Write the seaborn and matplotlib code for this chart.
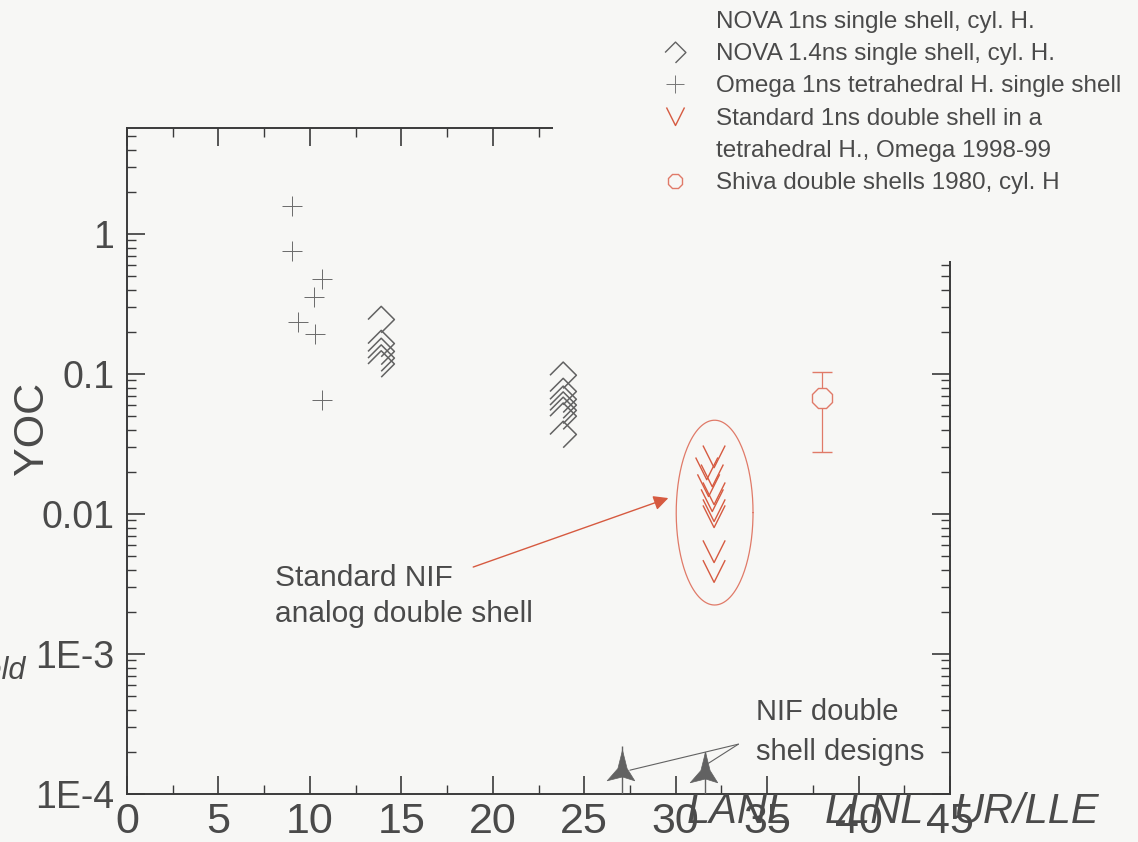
import numpy as np
import matplotlib
matplotlib.use("Agg")
import matplotlib.pyplot as plt
import seaborn as sns
from matplotlib.path import Path
from matplotlib.lines import Line2D
from matplotlib.patches import Rectangle
from matplotlib.ticker import MultipleLocator, LogLocator, NullFormatter

# ---------------- data ----------------
# Omega 1 ns tetrahedral hohlraum, single shell
omega_x = [9.0, 9.0, 10.65, 10.2, 9.37, 10.28, 10.65]
omega_yoc = [1.58, 0.76, 0.48, 0.355, 0.235, 0.192, 0.065]

# NOVA 1.4 ns single shell, cylindrical hohlraum
nova14_x = [13.9, 13.9, 13.9, 13.9, 13.9,
            23.85, 23.85, 23.85, 23.85, 23.85, 23.85, 23.85]
nova14_yoc = [0.245, 0.165, 0.145, 0.13, 0.118,
              0.098, 0.075, 0.066, 0.06, 0.055, 0.05, 0.037]

# Standard 1 ns double shell in a tetrahedral hohlraum, Omega 1998-99
std_x = [32.1, 31.7, 32.0, 31.8, 32.1, 32.0, 32.1, 32.1, 32.1, 32.1]
std_yoc = [0.0257, 0.0211, 0.0188, 0.0160, 0.0140,
           0.0125, 0.0106, 0.0096, 0.0054, 0.0039]

# Shiva double shells 1980 (value with low / high bounds)
shiva_x = [38.0]
shiva_yoc = [0.067]
shiva_lo = [0.0279]
shiva_hi = [0.103]

# NIF double shell designs
nif_x = [27.05, 31.6]
nif_yoc = [1.6e-4, 1.55e-4]
nif_top = [2.2e-4, 2.0e-4]

# axis ticks
x_ticks = [0, 5, 10, 15, 20, 25, 30, 35, 40, 45]
y_ticks = [1e-4, 1e-3, 1e-2, 1e-1, 1]
y_ticklabels = ["1E-4", "1E-3", "0.01", "0.1", "1"]

legend_labels = [
    "NOVA 1ns single shell, cyl. H.",
    "NOVA 1.4ns single shell, cyl. H.",
    "Omega 1ns tetrahedral H. single shell",
    "Standard 1ns double shell in a",
    "tetrahedral H., Omega 1998-99",
    "Shiva double shells 1980, cyl. H",
]

# ---------------- styling ----------------
BG = "#f7f7f5"
INK = "#3a3a3a"
TXT = "#4a4a4a"
GRAY = "#626262"
RED = "#d65a40"
RED_LIGHT = "#e07a68"

sns.set_theme(style="ticks")
plt.rcParams["font.family"] = ["Liberation Sans", "DejaVu Sans"]

W, H = 1138, 842
fig = plt.figure(figsize=(W / 100, H / 100), dpi=100, facecolor=BG)
ax = fig.add_axes([127 / W, 48 / H, 823 / W, 666 / H])
ax.set_facecolor(BG)
ax.set_yscale("log")

# open diamond (three edges), open "V" and filled spike markers
diamond = Path([(-1, 0), (0, 1), (1, 0), (0, -1)])
vee = Path([(-1, 1), (0, -1), (1, 1)])
spike = Path([(0, 1), (0.3, -0.2), (0.8, -1), (0, -0.75), (-1, -1),
              (-0.3, -0.2), (0, 1)], closed=True)

sns.scatterplot(x=omega_x, y=omega_yoc, marker="+", s=15 ** 2,
                color="#6a6a6a", linewidth=0.7, ax=ax, zorder=3)
sns.scatterplot(x=nova14_x, y=nova14_yoc, marker=diamond, s=19 ** 2,
                facecolor="none", edgecolor=GRAY, linewidth=1.1, ax=ax, zorder=3)
sns.scatterplot(x=std_x, y=std_yoc, marker=vee, s=16 ** 2,
                facecolor="none", edgecolor=RED, linewidth=1.0, ax=ax, zorder=3)

# Shiva point with its range
ax.errorbar(shiva_x, shiva_yoc,
            yerr=[np.subtract(shiva_yoc, shiva_lo), np.subtract(shiva_hi, shiva_yoc)],
            fmt="8", ms=15, mfc=BG, mec=RED_LIGHT, mew=1.0,
            ecolor=RED_LIGHT, elinewidth=0.9, capsize=7, capthick=0.9, zorder=3)

# NIF designs: stems from the axis plus filled spike markers
ax.vlines(nif_x, 1e-4, nif_top, color=GRAY, lw=1.0, zorder=3)
sns.scatterplot(x=nif_x, y=nif_yoc, marker=spike, s=22 ** 2,
                color=GRAY, edgecolor=GRAY, linewidth=0.5, ax=ax, zorder=4)

# ellipse around the standard double-shell shots (drawn in log space)
t = np.linspace(0, 2 * np.pi, 240)
ell_cx, ell_clog, ell_dx, ell_dlog = 32.13, -1.99, 2.1, 0.66
ax.plot(ell_cx + ell_dx * np.cos(t), 10 ** (ell_clog + ell_dlog * np.sin(t)),
        color=RED_LIGHT, lw=0.9, zorder=2)

# arrow from the NIF-analog label to the ellipse
ax.annotate("", xy=(29.6, 0.013), xytext=(18.93, 0.00418),
            arrowprops=dict(arrowstyle="-|>", color=RED, lw=1.0,
                            mutation_scale=22, shrinkA=0, shrinkB=0))
# connector lines for the NIF design label
for xe, ye in [(27.5, 1.48e-4), (31.8, 1.66e-4)]:
    ax.annotate("", xy=(xe, ye), xytext=(33.43, 2.27e-4),
                arrowprops=dict(arrowstyle="-", color=GRAY, lw=0.8,
                                shrinkA=0, shrinkB=0))

# ---------------- axes ----------------
ax.set_xlim(0, 45)
ax.set_ylim(1e-4, 5.72)
ax.set_xticks(x_ticks)
ax.xaxis.set_minor_locator(MultipleLocator(2.5))
ax.set_yticks(y_ticks, labels=y_ticklabels)
ax.yaxis.set_minor_locator(LogLocator(base=10, subs=np.arange(2, 10)))
ax.yaxis.set_minor_formatter(NullFormatter())
ax.set_xlabel("")
ax.set_ylabel("")

for sp in ax.spines.values():
    sp.set_visible(True)
    sp.set_color(INK)
    sp.set_linewidth(1.4)

ax.tick_params(which="both", direction="in", top=True, right=True,
               color=INK, labelcolor=TXT)
ax.tick_params(which="major", length=13, width=1.2)
ax.tick_params(which="minor", length=6.5, width=1.0)
ax.tick_params(axis="x", which="major", labelsize=31, pad=6)
ax.tick_params(axis="y", which="major", labelsize=27, pad=9)

# blank panel behind the legend (hides the upper-right frame)
fig.add_artist(Rectangle((553 / W, 1 - 261 / H), 1, 1, transform=fig.transFigure,
                         facecolor=BG, edgecolor="none", zorder=1))

# ---------------- legend ----------------
handles = [
    Line2D([], [], ls="none", marker="None"),
    Line2D([], [], ls="none", marker=diamond, ms=15, mfc="none", mec=GRAY, mew=1.0),
    Line2D([], [], ls="none", marker="+", ms=13, mec="#777777", mew=0.7),
    Line2D([], [], ls="none", marker=vee, ms=13, mfc="none", mec=RED, mew=1.0),
    Line2D([], [], ls="none", marker="None"),
    Line2D([], [], ls="none", marker="8", ms=11, mfc="none", mec=RED_LIGHT, mew=1.0),
]
leg = fig.legend(handles, legend_labels, loc="upper left",
                 bbox_to_anchor=(663 / W, 1 - 11 / H), frameon=False,
                 fontsize=17.5, handlelength=1.0, handletextpad=1.2,
                 labelspacing=0.42, borderpad=0, borderaxespad=0,
                 labelcolor=TXT)
leg.set_zorder(5)

# ---------------- text ----------------
fig.text(32 / W, 1 - 428 / H, "YOC", rotation=90, fontsize=31,
         color=TXT, ha="center", va="center")
fig.text(26 / W, 1 - 671 / H, "Yield", style="italic", fontsize=22,
         color=TXT, ha="right", va="center")
fig.text(275 / W, 1 - 596 / H, "Standard NIF\nanalog double shell",
         fontsize=21.5, color=TXT, ha="left", va="center", linespacing=1.35)
fig.text(756 / W, 1 - 732 / H, "NIF double\nshell designs",
         fontsize=21, color=TXT, ha="left", va="center", linespacing=1.5)
for lbl, xp in [("LANL", 687), ("LLNL", 825), ("UR/LLE", 954)]:
    fig.text(xp / W, 1 - 812 / H, lbl, style="italic", fontsize=30,
             color=TXT, ha="left", va="center")

fig.savefig("out.png", dpi=100, facecolor=BG)
